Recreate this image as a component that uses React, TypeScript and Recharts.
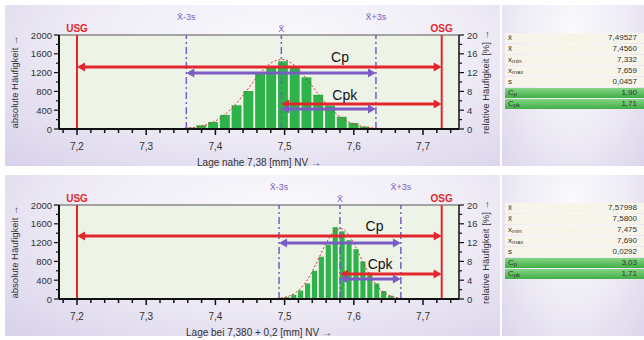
import React from "react";
import {
  ComposedChart,
  Bar,
  Line,
  XAxis,
  YAxis,
  CartesianGrid,
  ReferenceLine,
  ReferenceDot,
} from "recharts";

// Toleranzgrenzen (mm)
const USG = 7.2;
const OSG = 7.727;

// Achsen
const xDomain = [7.174, 7.752];
const xTicks = [
  7.18, 7.2, 7.22, 7.24, 7.26, 7.28, 7.3, 7.32, 7.34, 7.36, 7.38, 7.4, 7.42, 7.44, 7.46,
  7.48, 7.5, 7.52, 7.54, 7.56, 7.58, 7.6, 7.62, 7.64, 7.66, 7.68, 7.7, 7.72, 7.74,
];
const leftTicks = [0, 200, 400, 600, 800, 1000, 1200, 1400, 1600, 1800, 2000];
const rightTicks = [0, 2, 4, 6, 8, 10, 12, 14, 16, 18, 20];

// Oben: Lage nahe 7,38
const topX = [
  7.345, 7.362, 7.379, 7.396, 7.413, 7.43, 7.447, 7.464, 7.48, 7.497, 7.514, 7.531,
  7.548, 7.565, 7.582, 7.599, 7.615, 7.632, 7.649,
];
const topCount = [
  null, 30, 80, 150, 300, 505, 810, 1190, 1300, 1440, 1330, 1100, 730, 500, 260, 130, 50,
  15, null,
];
const topCurve = [
  7, 21, 59, 141, 296, 539, 853, 1175, 1402, 1479, 1356, 1084, 757, 459, 242, 110, 47, 16, 5,
];
const topMean = 7.49527;
const topLo = 7.358; // X̄ - 3s
const topHi = 7.632; // X̄ + 3s
const topBin = 0.0169;
const topArrowY = [1320, 1190, 530, 425]; // Cp rot, Cp lila, Cpk rot, Cpk lila
const topStats = ["7,49527", "7,4560", "7,332", "7,659", "0,0457", "1,90", "1,71"];

// Unten: Lage bei 7,380 + 0,2
const botX = [
  7.483, 7.493, 7.503, 7.513, 7.523, 7.533, 7.543, 7.553, 7.563, 7.573, 7.583, 7.593,
  7.603, 7.613, 7.623, 7.633, 7.643, 7.653, 7.663, 7.673,
];
const botCount = [
  null, null, 40, 90, 180, 330, 600, 900, 1150, 1530, 1440, 1250, 1060, 800, 560, 330, 170,
  70, 25, null,
];
const botCurve = [
  6, 18, 46, 108, 224, 409, 672, 980, 1266, 1456, 1492, 1358, 1100, 792, 507, 287, 146, 66,
  27, 9,
];
const botMean = 7.57998;
const botLo = 7.492;
const botHi = 7.668;
const botBin = 0.01;
const botArrowY = [1340, 1190, 530, 425];
const botStats = ["7,57998", "7,5800", "7,475", "7,690", "0,0292", "3,03", "1,71"];

const statNames: [string, string][] = [
  ["x̄", ""],
  ["x̃", ""],
  ["x", "min"],
  ["x", "max"],
  ["s", ""],
  ["C", "p"],
  ["C", "pk"],
];

const RED = "#e3262d";
const PURPLE = "#7a5cc4";
const GREEN = "#2db34a";

const CHART_W = 492;
const CHART_H = 166;
const PLOT_W = 400;

function arrowShape(color: string, w: number) {
  return (p: any) => {
    const { x1, y1, x2, y2 } = p;
    const a = 8;
    const h = 4.5;
    return (
      <g>
        <line x1={x1 + a - 1} y1={y1} x2={x2 - a + 1} y2={y2} stroke={color} strokeWidth={w} />
        <polygon points={`${x1},${y1} ${x1 + a},${y1 - h} ${x1 + a},${y1 + h}`} fill={color} />
        <polygon points={`${x2},${y2} ${x2 - a},${y2 - h} ${x2 - a},${y2 + h}`} fill={color} />
      </g>
    );
  };
}

const XTick = (p: any) => {
  const { x, y, payload } = p;
  const v = payload.value as number;
  const major = Math.abs(v * 10 - Math.round(v * 10)) < 1e-6;
  return (
    <g>
      <line x1={x} y1={y} x2={x} y2={y + (major ? 6 : 4)} stroke="#111" strokeWidth={1.5} />
      {major && (
        <text x={x} y={y + 21} textAnchor="middle" fontSize={10} fill="#333">
          {v.toFixed(1).replace(".", ",")}
        </text>
      )}
    </g>
  );
};

const LeftTick = (p: any) => {
  const { x, y, payload } = p;
  const v = payload.value as number;
  const major = v % 400 === 0;
  return (
    <g>
      <line x1={x} y1={y} x2={x - (major ? 5 : 3)} y2={y} stroke="#111" strokeWidth={1.2} />
      {major && (
        <text x={x - 7} y={y + 3.5} textAnchor="end" fontSize={9.5} fill="#333">
          {v}
        </text>
      )}
    </g>
  );
};

const RightTick = (p: any) => {
  const { x, y, payload } = p;
  const v = payload.value as number;
  const major = v % 4 === 0;
  return (
    <g>
      <line x1={x} y1={y} x2={x + (major ? 5 : 3)} y2={y} stroke="#111" strokeWidth={1.2} />
      {major && (
        <text x={x + 8} y={y + 3.5} textAnchor="start" fontSize={9.5} fill="#333">
          {v}
        </text>
      )}
    </g>
  );
};

interface PanelProps {
  xs: number[];
  counts: (number | null)[];
  curve: number[];
  mean: number;
  lo: number;
  hi: number;
  bin: number;
  arrowY: number[];
  cp: [number, number];
  cpk: [number, number];
  xLabel: string;
}

function HistPanel({ xs, counts, curve, mean, lo, hi, bin, arrowY, cp, cpk, xLabel }: PanelProps) {
  const data = xs.map((x, i) => ({ x, count: counts[i], curve: curve[i] }));
  const barSize = (bin * PLOT_W) / (xDomain[1] - xDomain[0]) - 1.8;
  const dash = "7 3 2 3";
  return (
    <ComposedChart
      width={CHART_W}
      height={CHART_H}
      data={data}
      margin={{ top: 30, right: 8, bottom: 0, left: 10 }}
    >
      <CartesianGrid horizontal={false} vertical={false} fill="#eef3e8" />
      <XAxis
        dataKey="x"
        type="number"
        domain={xDomain}
        allowDataOverflow
        ticks={xTicks}
        interval={0}
        tick={<XTick />}
        tickLine={false}
        tickSize={0}
        tickMargin={0}
        height={42}
        axisLine={{ stroke: "#111", strokeWidth: 2 }}
        label={{ value: xLabel, position: "insideBottom", offset: 5, fontSize: 10, fill: "#333" }}
      />
      <YAxis
        yAxisId="left"
        domain={[0, 2000]}
        allowDataOverflow
        ticks={leftTicks}
        interval={0}
        tick={<LeftTick />}
        tickLine={false}
        tickSize={0}
        tickMargin={0}
        width={44}
        axisLine={{ stroke: "#111", strokeWidth: 2 }}
        label={{
          value: "absolute Häufigkeit →",
          angle: -90,
          position: "insideLeft",
          offset: 0,
          fontSize: 9.5,
          fill: "#333",
          style: { textAnchor: "middle" },
        }}
      />
      <YAxis
        yAxisId="right"
        orientation="right"
        domain={[0, 20]}
        allowDataOverflow
        ticks={rightTicks}
        interval={0}
        tick={<RightTick />}
        tickLine={false}
        tickSize={0}
        tickMargin={0}
        width={30}
        axisLine={{ stroke: "#111", strokeWidth: 1.5 }}
        label={{
          value: "relative Häufigkeit [%] →",
          angle: -90,
          position: "insideRight",
          offset: 3,
          fontSize: 9.5,
          fill: "#333",
          style: { textAnchor: "middle" },
        }}
      />
      <Bar
        yAxisId="left"
        dataKey="count"
        fill={GREEN}
        barSize={barSize}
        isAnimationActive={false}
      />
      <Line
        yAxisId="left"
        dataKey="curve"
        type="monotone"
        stroke={RED}
        strokeWidth={1}
        strokeDasharray="2 2"
        dot={false}
        isAnimationActive={false}
      />
      <ReferenceLine yAxisId="left" y={2000} stroke="#555" strokeWidth={1} />
      <ReferenceLine
        yAxisId="left"
        x={USG}
        stroke={RED}
        strokeWidth={2}
        label={{ value: "USG", position: "top", offset: 3, fill: RED, fontSize: 10, fontWeight: "bold" }}
      />
      <ReferenceLine
        yAxisId="left"
        x={OSG}
        stroke={RED}
        strokeWidth={2}
        label={{ value: "OSG", position: "top", offset: 3, fill: RED, fontSize: 10, fontWeight: "bold" }}
      />
      <ReferenceLine
        yAxisId="left"
        x={lo}
        stroke={PURPLE}
        strokeWidth={1.5}
        strokeDasharray={dash}
        label={{ value: "X̄-3s", position: "top", offset: 15, fill: PURPLE, fontSize: 9 }}
      />
      <ReferenceLine
        yAxisId="left"
        x={hi}
        stroke={PURPLE}
        strokeWidth={1.5}
        strokeDasharray={dash}
        label={{ value: "X̄+3s", position: "top", offset: 15, fill: PURPLE, fontSize: 9 }}
      />
      <ReferenceLine
        yAxisId="left"
        x={mean}
        stroke={PURPLE}
        strokeWidth={1.5}
        strokeDasharray={dash}
        label={{ value: "X̄", position: "top", offset: 3, fill: PURPLE, fontSize: 9 }}
      />
      <ReferenceLine
        yAxisId="left"
        segment={[
          { x: USG, y: arrowY[0] },
          { x: OSG, y: arrowY[0] },
        ]}
        shape={arrowShape(RED, 3)}
      />
      <ReferenceLine
        yAxisId="left"
        segment={[
          { x: lo, y: arrowY[1] },
          { x: hi, y: arrowY[1] },
        ]}
        shape={arrowShape(PURPLE, 3)}
      />
      <ReferenceLine
        yAxisId="left"
        segment={[
          { x: mean, y: arrowY[2] },
          { x: OSG, y: arrowY[2] },
        ]}
        shape={arrowShape(RED, 3)}
      />
      <ReferenceLine
        yAxisId="left"
        segment={[
          { x: mean, y: arrowY[3] },
          { x: hi, y: arrowY[3] },
        ]}
        shape={arrowShape(PURPLE, 3)}
      />
      <ReferenceDot
        yAxisId="left"
        x={cp[0]}
        y={cp[1]}
        r={0}
        stroke="none"
        label={{ value: "Cp", position: "center", fontSize: 14, fill: "#111" }}
      />
      <ReferenceDot
        yAxisId="left"
        x={cpk[0]}
        y={cpk[1]}
        r={0}
        stroke="none"
        label={{ value: "Cpk", position: "center", fontSize: 14, fill: "#111" }}
      />
    </ComposedChart>
  );
}

function StatsTable({ values }: { values: string[] }) {
  return (
    <div style={{ position: "absolute", left: 3, top: 28, width: 139 }}>
      {statNames.map(([main, sub], i) => {
        const green = i >= 5;
        return (
          <div
            key={i}
            style={{
              height: 10,
              marginBottom: 1,
              background: green ? "linear-gradient(#86d486, #3fae45)" : "#f7f5e9",
              display: "flex",
              justifyContent: "space-between",
              alignItems: "center",
              fontSize: 8,
              lineHeight: "10px",
              color: "#333",
              padding: "0 7px 0 3px",
            }}
          >
            <span>
              {main}
              {sub && <span style={{ fontSize: 6, verticalAlign: "-1px" }}>{sub}</span>}
            </span>
            <span>{values[i]}</span>
          </div>
        );
      })}
    </div>
  );
}

const panelBg = "radial-gradient(ellipse at 55% 25%, #fbfafd 0%, #efecf6 50%, #d8d1ea 100%)";
const tableBg = "radial-gradient(ellipse at 50% 20%, #fbfafd 0%, #eeebf5 55%, #dcd5ec 100%)";

function Panel({ top, children, stats }: { top: number; children: React.ReactNode; stats: string[] }) {
  return (
    <>
      <div
        style={{ position: "absolute", left: 5, top: top + 5, width: 495, height: 161, background: panelBg }}
      />
      <div style={{ position: "absolute", left: 5, top: top + 5, width: CHART_W, height: CHART_H }}>
        {children}
      </div>
      <div
        style={{ position: "absolute", left: 502, top: top + 5, width: 142, height: 161, background: tableBg }}
      >
        <StatsTable values={stats} />
      </div>
    </>
  );
}

export default function App() {
  return (
    <div
      style={{
        position: "absolute",
        left: 0,
        top: 0,
        width: 644,
        height: 340,
        background: "#ffffff",
        overflow: "hidden",
        fontFamily: '"Liberation Sans", Arial, sans-serif',
      }}
    >
      <Panel top={0} stats={topStats}>
        <HistPanel
          xs={topX}
          counts={topCount}
          curve={topCurve}
          mean={topMean}
          lo={topLo}
          hi={topHi}
          bin={topBin}
          arrowY={topArrowY}
          cp={[7.58, 1530]}
          cpk={[7.587, 720]}
          xLabel="Lage nahe 7,38 [mm] NV →"
        />
      </Panel>
      <Panel top={170} stats={botStats}>
        <HistPanel
          xs={botX}
          counts={botCount}
          curve={botCurve}
          mean={botMean}
          lo={botLo}
          hi={botHi}
          bin={botBin}
          arrowY={botArrowY}
          cp={[7.63, 1550]}
          cpk={[7.638, 745]}
          xLabel="Lage bei 7,380 + 0,2 [mm] NV →"
        />
      </Panel>
    </div>
  );
}
